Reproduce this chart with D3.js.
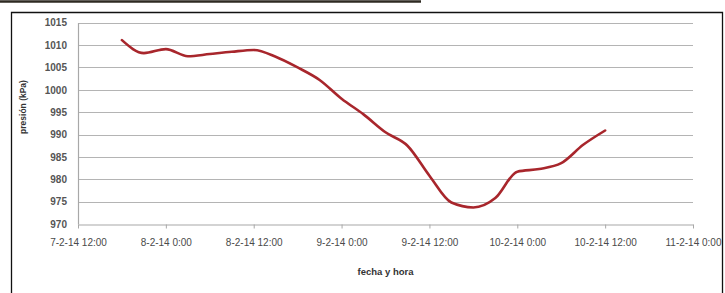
<!DOCTYPE html>
<html>
<head>
<meta charset="utf-8">
<script src="https://cdn.jsdelivr.net/npm/d3@7"></script>
<style>
  html, body { margin: 0; padding: 0; background: #fff; }
  svg { display: block; }
  .tick text { font-family: "Liberation Sans", Arial, sans-serif; font-size: 10px; fill: #4a4a4a; }
</style>
</head>
<body>
<div id="chart"></div>
<script>
// pressure readings every 3 h, from 7-2-14 18:00 to 10-2-14 12:00
const hours = [6, 9, 12, 15, 18, 21, 24, 27, 30, 33, 36, 39, 42, 45, 48, 51, 54, 57, 60, 63, 66, 69, 72];
const pressure = [1011.1, 1008.2, 1009.1, 1007.5, 1008.0, 1008.5, 1008.9, 1007.4, 1005.0, 1002.2,
  998.0, 994.5, 990.5, 987.5, 980.8, 974.8, 973.7, 975.8, 981.7, 982.3, 983.6, 987.7, 990.9];
const xTicks = [0, 12, 24, 36, 48, 60, 72, 84];
const xTickLabels = ["7-2-14 12:00", "8-2-14 0:00", "8-2-14 12:00", "9-2-14 0:00",
  "9-2-14 12:00", "10-2-14 0:00", "10-2-14 12:00", "11-2-14 0:00"];
const yTicks = [970, 975, 980, 985, 990, 995, 1000, 1005, 1010, 1015];

const width = 725, height = 293;
const plot = { left: 78, right: 693, top: 22.7, bottom: 224 };

const svg = d3.select("#chart").append("svg")
  .attr("width", width)
  .attr("height", height);

// dark rule above the figure and frame around it
svg.append("line")
  .attr("x1", 0).attr("x2", 421).attr("y1", 1.5).attr("y2", 1.5)
  .attr("stroke", "#2e2a22").attr("stroke-width", 2.5);

svg.append("path")
  .attr("d", `M11.5,${height} V12.5 H722.5 V${height}`)
  .attr("fill", "none").attr("stroke", "#111").attr("stroke-width", 1.3);

const x = d3.scaleLinear().domain([0, 84]).range([plot.left, plot.right]);
const y = d3.scaleLinear().domain([970, 1015]).range([plot.bottom, plot.top]);

// horizontal gridlines
svg.append("g")
  .selectAll("line")
  .data(yTicks.slice(1))
  .join("line")
  .attr("x1", plot.left).attr("x2", plot.right)
  .attr("y1", d => Math.round(y(d)) + 0.5).attr("y2", d => Math.round(y(d)) + 0.5)
  .attr("stroke", "#b4b4b4").attr("stroke-width", 1.2);

const gy = svg.append("g")
  .attr("transform", `translate(${plot.left},0)`)
  .call(d3.axisLeft(y).tickValues(yTicks).tickFormat(d => String(d)).tickSize(0).tickPadding(11));
gy.select(".domain").attr("stroke", "#a8a8a8").attr("stroke-width", 1.2);
gy.selectAll(".tick text").style("font-weight", "bold").style("fill", "#555");

const gx = svg.append("g")
  .attr("transform", `translate(0,${Math.round(plot.bottom) + 0.5})`)
  .call(d3.axisBottom(x).tickValues(xTicks)
    .tickFormat((d, i) => xTickLabels[i]).tickSizeInner(4).tickSizeOuter(0).tickPadding(10));
gx.select(".domain").attr("stroke", "#a8a8a8").attr("stroke-width", 1.2);
gx.selectAll(".tick line").attr("stroke", "#a8a8a8");

// axis titles
svg.append("text")
  .attr("x", (plot.left + plot.right) / 2).attr("y", 275)
  .attr("text-anchor", "middle")
  .style("font-family", "Liberation Sans, Arial, sans-serif")
  .style("font-size", "9.5px").style("font-weight", "bold").style("fill", "#333")
  .text("fecha y hora");

svg.append("text")
  .attr("transform", "translate(26,107) rotate(-90)")
  .attr("text-anchor", "middle")
  .style("font-family", "Liberation Sans, Arial, sans-serif")
  .style("font-size", "8.5px").style("font-weight", "bold").style("fill", "#333")
  .text("presión (kPa)");

// pressure line
const data = hours.map((h, i) => ({ h, p: pressure[i] }));
const line = d3.line()
  .x(d => x(d.h))
  .y(d => y(d.p))
  .curve(d3.curveMonotoneX);

svg.append("path")
  .datum(data)
  .attr("fill", "none")
  .attr("stroke", "#a8262c")
  .attr("stroke-width", 2.6)
  .attr("stroke-linejoin", "round")
  .attr("stroke-linecap", "round")
  .attr("d", line);
</script>
</body>
</html>
